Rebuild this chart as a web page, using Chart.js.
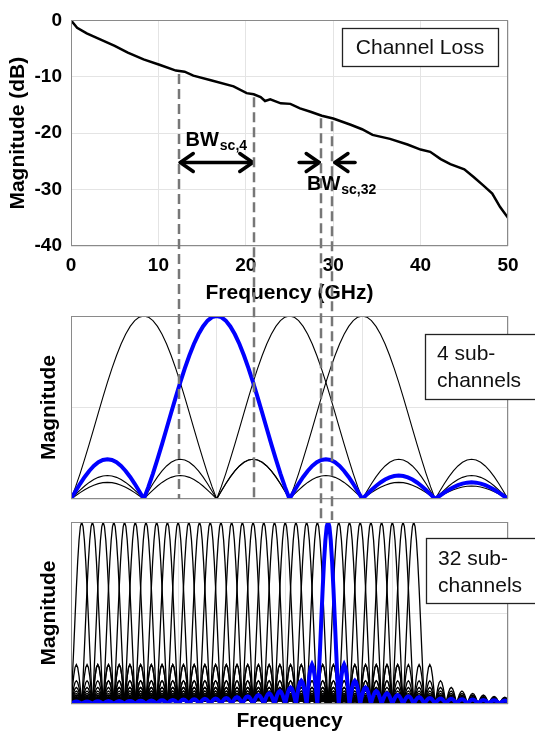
<!DOCTYPE html>
<html>
<head>
<meta charset="utf-8">
<script src="https://cdn.jsdelivr.net/npm/chart.js@4/dist/chart.umd.min.js"></script>
<style>
  body { margin: 0; background: #fff; }
  #wrap { position: relative; width: 535px; height: 735px; overflow: hidden; }
  canvas { position: absolute; left: 0; }
</style>
</head>
<body>
<div id="wrap">
  <canvas id="loss" width="535" height="306" style="top:0px"></canvas>
  <canvas id="sub4" width="535" height="199" style="top:306px"></canvas>
  <canvas id="sub32" width="535" height="230" style="top:505px"></canvas>
  <canvas id="overlay" width="535" height="735" style="top:0px;pointer-events:none"></canvas>
</div>
<script>
Chart.defaults.font.family = "'Liberation Sans', Arial, sans-serif";
Chart.defaults.color = '#000';

// channel loss
const lossFreq = [0, 0.7, 1.8, 3.4, 5, 6.5, 8.3, 10.2, 12, 13, 14, 16, 18.6, 20.1, 20.9, 21.7, 22.2, 22.8, 24, 25.1,
  26.2, 27.4, 28.7, 30, 32, 33.3, 34.5, 36.5, 38.5, 40, 41.1, 42.3, 43.4, 45, 46.1, 47.2, 48.2, 49.1, 50];
const lossDb = [0, -1.3, -2.3, -3.4, -4.5, -5.7, -6.9, -7.9, -8.9, -9.1, -9.8, -10.6, -11.7, -12.9, -13.1, -13.6, -14.3, -14.0, -14.7, -14.8,
  -15.6, -16.2, -16.9, -17.4, -18.5, -19.3, -20.3, -21.0, -22.0, -22.9, -23.3, -24.6, -25.5, -26.4, -27.8, -29.3, -30.7, -33.1, -35.0];

// sub-channel bandwidth markers (GHz)
const bw4Edges = [12.4, 20.9];
const bw32Edges = [28.55, 29.9];
const bw4Arrow = [12.5, 20.8];
const bw32ArrowIn = [[26.1, 28.4], [32.5, 30.2]];
const arrowDb = -25.2;
const bw4Label = [13.1, -22.2, 'sc,4'];
const bw32Label = [27.0, -30.0, 'sc,32'];

// sub-channel spectra: centres in units of sub-channel spacing
const centers4 = [1, 2, 3, 4];
const active4 = 2;
const span4 = 6;
const centers32 = [1, 2, 3, 4, 5, 6, 7, 8, 9, 10, 11, 12, 13, 14, 15, 16,
  17, 18, 19, 20, 21, 22, 23, 24, 25, 26, 27, 28, 29, 30, 31, 32];
const active32 = 24;
const span32 = 40.8;

// lobe profiles (16 steps per spacing)
const mainLobe = [1, 0.994, 0.975, 0.943, 0.900, 0.847, 0.784, 0.714, 0.637, 0.555, 0.471, 0.385, 0.300, 0.218, 0.139, 0.066, 0];
const sideArch = [0, 0.195, 0.383, 0.556, 0.707, 0.831, 0.924, 0.981, 1, 0.981, 0.924, 0.831, 0.707, 0.556, 0.383, 0.195, 0];
const sideLevels = [0.217, 0.128, 0.091, 0.071, 0.058, 0.049, 0.042, 0.037, 0.033, 0.030, 0.028, 0.026, 0.024, 0.022,
  0.021, 0.019, 0.018, 0.017, 0.016, 0.016, 0.015, 0.014, 0.014, 0.013, 0.013, 0.012, 0.012, 0.011, 0.011, 0.011,
  0.010, 0.010, 0.010, 0.009, 0.009, 0.009, 0.009, 0.008, 0.008, 0.008, 0.008];

function subChannel(center, span, perUnit) {
  const pts = [];
  const n = Math.floor(span * perUnit);
  const c = center * perUnit;
  for (let i = 0; i <= n; i++) {
    const d = Math.abs(i - c);
    const k = Math.floor(d / perUnit);
    const r = (d % perUnit) * (16 / perUnit);
    let y;
    if (k === 0) y = mainLobe[r];
    else y = sideLevels[Math.min(k - 1, sideLevels.length - 1)] * sideArch[r];
    pts.push({x: i / perUnit, y: y});
  }
  return pts;
}

function subSets(centers, active, span, perUnit, blackWidth) {
  const sets = [{data: subChannel(active, span, perUnit), borderColor: '#0000ff', borderWidth: 4}];
  centers.forEach(c => {
    if (c !== active) sets.push({data: subChannel(c, span, perUnit), borderColor: '#000', borderWidth: blackWidth});
  });
  return sets;
}

const frame = {
  id: 'frame',
  afterDatasetsDraw(chart) {
    const a = chart.chartArea, ctx = chart.ctx;
    ctx.save();
    ctx.strokeStyle = '#8a8a8a';
    ctx.lineWidth = 1;
    ctx.strokeRect(Math.round(a.left) + 0.5, Math.round(a.top) + 0.5, Math.round(a.right - a.left) - 1, Math.round(a.bottom - a.top) - 1);
    ctx.restore();
  }
};

const note = {
  id: 'note',
  afterDraw(chart, args, o) {
    if (!o.lines) return;
    const ctx = chart.ctx;
    ctx.save();
    ctx.fillStyle = '#fff';
    ctx.fillRect(o.x, o.y, o.w, o.h);
    ctx.strokeStyle = '#222';
    ctx.lineWidth = 1.3;
    ctx.strokeRect(o.x + 0.5, o.y + 0.5, o.w, o.h);
    ctx.fillStyle = '#111';
    ctx.font = '21px "Liberation Sans", Arial, sans-serif';
    ctx.textAlign = o.align;
    o.lines.forEach((t, i) => ctx.fillText(t, o.tx, o.ty + i * 27));
    ctx.restore();
  }
};

function arrowHead(ctx, x, y, dir) {
  ctx.beginPath();
  ctx.moveTo(x - dir * 13, y - 9);
  ctx.lineTo(x, y);
  ctx.lineTo(x - dir * 13, y + 9);
  ctx.stroke();
}

const bwMarks = {
  id: 'bwMarks',
  afterDraw(chart) {
    const ctx = chart.ctx, xs = chart.scales.x, ys = chart.scales.y;
    ctx.save();
    ctx.strokeStyle = '#000';
    ctx.lineWidth = 3.5;
    ctx.lineCap = 'round';
    ctx.lineJoin = 'round';
    const y = ys.getPixelForValue(arrowDb);
    const a = xs.getPixelForValue(bw4Arrow[0]), b = xs.getPixelForValue(bw4Arrow[1]);
    ctx.beginPath(); ctx.moveTo(a, y); ctx.lineTo(b, y); ctx.stroke();
    arrowHead(ctx, a, y, -1);
    arrowHead(ctx, b, y, 1);
    bw32ArrowIn.forEach(p => {
      const s = xs.getPixelForValue(p[0]), e = xs.getPixelForValue(p[1]);
      ctx.beginPath(); ctx.moveTo(s, y); ctx.lineTo(e, y); ctx.stroke();
      arrowHead(ctx, e, y, e > s ? 1 : -1);
    });
    ctx.fillStyle = '#000';
    [bw4Label, bw32Label].forEach(l => {
      const x = xs.getPixelForValue(l[0]), by = ys.getPixelForValue(l[1]);
      ctx.font = 'bold 20px "Liberation Sans", Arial, sans-serif';
      ctx.fillText('BW', x, by);
      const w = ctx.measureText('BW').width;
      ctx.font = 'bold 14px "Liberation Sans", Arial, sans-serif';
      ctx.fillText(l[2], x + w + 1, by + 4);
    });
    ctx.restore();
  }
};

const titleFont = {size: 21, weight: 'bold'};
const tickFont = {size: 19, weight: 'bold'};
const gridCol = '#e4e4e4';

const lossChart = new Chart(document.getElementById('loss'), {
  type: 'line',
  data: {
    datasets: [{
      data: lossFreq.map((f, i) => ({x: f, y: lossDb[i]})),
      borderColor: '#000', borderWidth: 2.5, pointRadius: 0, tension: 0
    }]
  },
  options: {
    responsive: false, animation: false,
    layout: {padding: {left: 0, right: 27, top: 16, bottom: 0}},
    plugins: {
      legend: {display: false}, tooltip: {enabled: false},
      note: {x: 342, y: 28, w: 156, h: 38, lines: ['Channel Loss'], tx: 420, ty: 54, align: 'center'}
    },
    scales: {
      x: {
        type: 'linear', min: 0, max: 50,
        ticks: {stepSize: 10, font: tickFont, padding: 8, maxRotation: 0},
        grid: {color: gridCol, drawTicks: false},
        border: {display: false},
        title: {display: true, text: 'Frequency (GHz)', font: titleFont, padding: {top: 0, bottom: 0}},
        afterFit(s) { s.height = 60; }
      },
      y: {
        min: -40, max: 0,
        ticks: {stepSize: 10, font: tickFont, padding: 9},
        grid: {color: gridCol, drawTicks: false},
        border: {display: false},
        title: {display: true, text: 'Magnitude (dB)', font: titleFont, padding: {top: 6, bottom: 0}},
        afterFit(s) { s.width = 71; }
      }
    }
  },
  plugins: [frame, note, bwMarks]
});

function subOptions(span, step, padTop, padBottom, xTitle, box) {
  return {
    responsive: false, animation: false,
    layout: {padding: {left: 0, right: 27, top: padTop, bottom: padBottom}},
    elements: {point: {radius: 0}, line: {tension: 0}},
    plugins: {legend: {display: false}, tooltip: {enabled: false}, note: box},
    scales: {
      x: {
        type: 'linear', min: 0, max: span,
        ticks: {display: false, stepSize: step},
        grid: {color: gridCol, drawTicks: false},
        border: {display: false},
        title: {display: !!xTitle, text: xTitle, font: titleFont, padding: {top: 0, bottom: 1}},
        afterFit(s) { s.height = xTitle ? 31 : 0; }
      },
      y: {
        min: 0, max: 1,
        ticks: {display: false, stepSize: 0.5},
        grid: {color: gridCol, drawTicks: false},
        border: {display: false},
        title: {display: true, text: 'Magnitude', font: titleFont, padding: {top: 37, bottom: 0}},
        afterFit(s) { s.width = 71; }
      }
    }
  };
}

const sub4Chart = new Chart(document.getElementById('sub4'), {
  type: 'line',
  data: {datasets: subSets(centers4, active4, span4, 16, 1.1)},
  options: subOptions(span4, 2, 10, 6, '',
    {x: 425, y: 28, w: 130, h: 65, lines: ['4 sub-', 'channels'], tx: 437, ty: 54, align: 'left'}),
  plugins: [frame, note]
});

const sub32Chart = new Chart(document.getElementById('sub32'), {
  type: 'line',
  data: {datasets: subSets(centers32, active32, span32, 8, 1.3)},
  options: subOptions(span32, 10, 17, 0, 'Frequency',
    {x: 426, y: 33, w: 130, h: 65, lines: ['32 sub-', 'channels'], tx: 438, ty: 60, align: 'left'}),
  plugins: [frame, note]
});

// dashed guide lines running from the loss curve down through the panels
function lossAt(f) {
  for (let i = 0; i < lossFreq.length - 1; i++) {
    if (f >= lossFreq[i] && f <= lossFreq[i + 1]) {
      const t = (f - lossFreq[i]) / (lossFreq[i + 1] - lossFreq[i]);
      return lossDb[i] + t * (lossDb[i + 1] - lossDb[i]);
    }
  }
  return lossDb[lossDb.length - 1];
}

const ov = document.getElementById('overlay').getContext('2d');
ov.strokeStyle = '#777';
ov.lineWidth = 2.5;
ov.setLineDash([10, 5]);
function dashed(f, yEnd) {
  const x = Math.round(lossChart.scales.x.getPixelForValue(f));
  const y0 = lossChart.scales.y.getPixelForValue(lossAt(f)) + 3;
  ov.beginPath();
  ov.moveTo(x, y0);
  ov.lineTo(x, yEnd);
  ov.stroke();
}
const top4 = document.getElementById('sub4').offsetTop;
const top32 = document.getElementById('sub32').offsetTop;
bw4Edges.forEach(f => dashed(f, top4 + sub4Chart.chartArea.bottom));
bw32Edges.forEach(f => dashed(f, top32 + sub32Chart.chartArea.top - 2));
</script>
</body>
</html>
